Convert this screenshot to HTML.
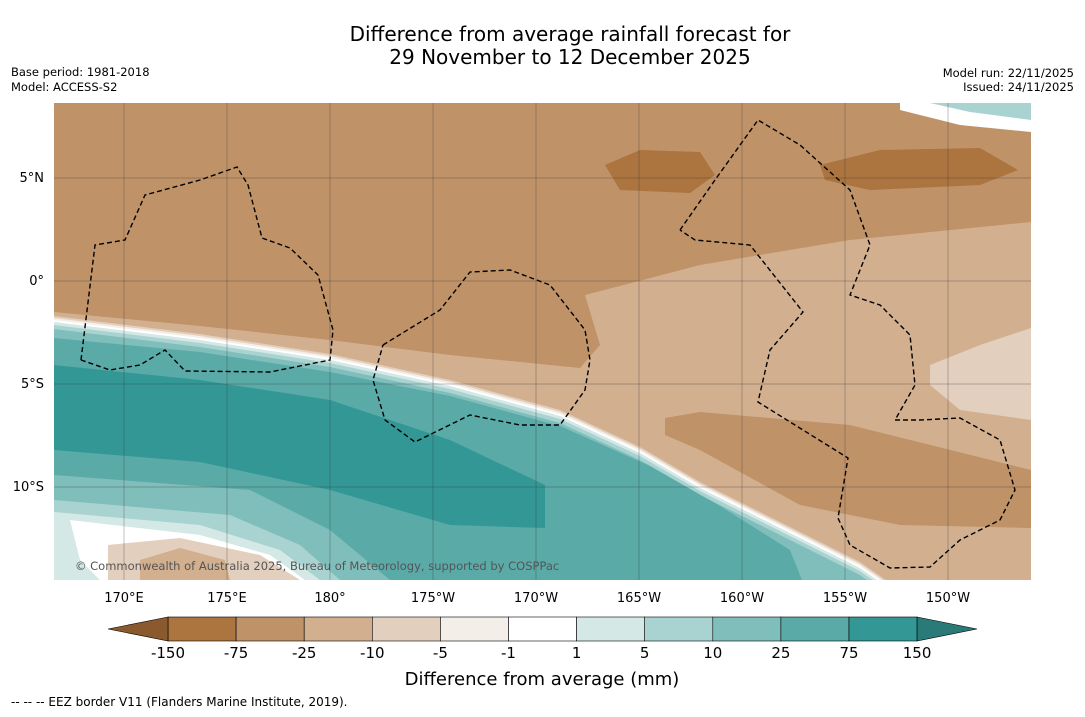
<!DOCTYPE html>
<html><head><meta charset="utf-8"><style>
body{margin:0;width:1085px;height:713px;background:#fff;font-family:"DejaVu Sans",sans-serif;overflow:hidden}
</style></head><body>
<svg id="s" width="1085" height="713" xmlns="http://www.w3.org/2000/svg" font-family="DejaVu Sans, sans-serif">
<text x="570" y="41" font-size="20" text-anchor="middle">Difference from average rainfall forecast for</text>
<text x="570" y="64" font-size="20" text-anchor="middle">29 November to 12 December 2025</text>
<text x="11" y="76" font-size="11.5">Base period: 1981-2018</text>
<text x="11" y="91" font-size="11.5">Model: ACCESS-S2</text>
<text x="1074" y="77" font-size="11.5" text-anchor="end">Model run: 22/11/2025</text>
<text x="1074" y="91" font-size="11.5" text-anchor="end">Issued: 24/11/2025</text>
<defs><clipPath id="mc"><rect x="54" y="103" width="977" height="477"/></clipPath></defs>
<g id="map" clip-path="url(#mc)"></g>
<g id="axes"></g>
<g id="cbar"></g>
<text x="542" y="685" font-size="18" text-anchor="middle">Difference from average (mm)</text>
<text x="11" y="706" font-size="12">-- -- -- EEZ border V11 (Flanders Marine Institute, 2019).</text>
</svg>
<script>
// Colorbar data
const levels=["-150","-75","-25","-10","-5","-1","1","5","10","25","75","150"];
const colors=["#AC743E","#BF9268","#D1AF8F","#E3CFBE","#F3EEE8","#FFFFFF","#D4E8E6","#A9D3D1","#80BEBB","#5AAAA8","#339895"];
const lonTicks=[170,175,180,185,190,195,200,205,210];
const lonLabels=["170°E","175°E","180°","175°W","170°W","165°W","160°W","155°W","150°W"];
const latTicks=[5,0,-5,-10];
const latLabels=["5°N","0°","5°S","10°S"];
const NS="http://www.w3.org/2000/svg";
const xLon=l=>124+(l-170)*20.6, yLat=l=>281-l*20.6;
function mk(p,t,a){const e=document.createElementNS(NS,t);for(const k in a)e.setAttribute(k,a[k]);p.appendChild(e);return e;}
const map=document.getElementById('map'),axes=document.getElementById('axes'),cb=document.getElementById('cbar');
function poly(pts,fill,name){const e=mk(map,'path',{d:'M'+pts.map(p=>p.join(',')).join('L')+'Z',fill:fill});

}
poly([[54,103],[1031,103],[1031,580],[54,580]],colors[1],'region-minus75');
poly([[54,312],[200,326],[330,340],[450,355],[580,368],[600,345],[585,295],[700,265],[850,240],[1031,222],[1031,580],[54,580]],colors[2],'region-minus25');
poly([[665,418],[700,412],[850,425],[1031,470],[1031,528],[900,525],[800,505],[700,450],[665,435]],colors[1],'region-minus75-south');
poly([[930,365],[980,345],[1031,328],[1031,420],[960,410],[930,385]],colors[3],'region-minus10-east');
poly([[605,165],[640,150],[700,152],[715,175],[690,193],[620,190]],colors[0],'region-minus150-a');
poly([[820,165],[880,150],[980,148],[1018,170],[980,185],[870,190],[825,180]],colors[0],'region-minus150-b');
const curve=[[54,316],[200,334],[330,354],[450,380],[560,410],[640,447],[700,482],[780,522],[860,562],[900,590],[1031,590]];
const offs=[0,2,4,6,9,13];
offs.forEach((o,i)=>{const pts=curve.map(p=>[p[0],p[1]+o]);pts.push([54,600]);poly(pts,colors[i+3],'band-'+levels[i+3]);});
poly([[54,338],[200,352],[330,372],[450,396],[560,426],[650,466],[720,506],[790,550],[810,600],[54,600]],colors[9],'region-25-75');
poly([[54,365],[200,380],[330,400],[450,440],[545,485],[545,528],[450,525],[330,490],[200,462],[54,450]],colors[10],'region-75-150');
poly([[54,475],[250,490],[330,530],[390,580],[54,580]],colors[8],'region-10-25-sw');
poly([[54,500],[230,515],[300,545],[340,580],[54,580]],colors[7],'region-5-10-sw');
poly([[54,512],[200,525],[280,550],[320,580],[54,580]],colors[6],'region-1-5-sw');
poly([[70,520],[200,535],[270,555],[305,580],[100,580],[80,560]],colors[5],'region-white-sw');
poly([[108,545],[180,538],[260,555],[300,580],[108,580]],colors[3],'region-minus10-sw');
poly([[140,560],[180,548],[225,560],[230,580],[140,580]],colors[2],'region-minus25-sw');
poly([[900,103],[1031,103],[1031,132],[960,125],[900,110]],colors[5],'band-white-ne');
poly([[930,103],[1031,103],[1031,120],[970,112]],colors[7],'band-teal-ne');
// grid
lonTicks.forEach((l,i)=>{const g=mk(axes,'line',{x1:xLon(l),x2:xLon(l),y1:103,y2:580,stroke:'#333','stroke-width':0.5,'stroke-opacity':0.6});


const t=mk(axes,'text',{x:xLon(l),y:602,'font-size':13,'text-anchor':'middle'});t.textContent=lonLabels[i];

});
latTicks.forEach((l,i)=>{const g=mk(axes,'line',{x1:54,x2:1031,y1:yLat(l),y2:yLat(l),stroke:'#333','stroke-width':0.5,'stroke-opacity':0.6});


const t=mk(axes,'text',{x:44,y:yLat(l)+4,'font-size':13,'text-anchor':'end'});t.textContent=latLabels[i];

});
// EEZ borders
const eez=[
[[81,360],[95,245],[125,240],[145,195],[200,180],[237,167],[248,185],[262,238],[290,248],[318,275],[333,330],[330,360],[270,372],[185,371],[165,350],[140,365],[110,370],[81,360]],
[[383,345],[440,310],[470,272],[510,270],[550,285],[585,330],[590,360],[585,390],[560,425],[520,425],[470,415],[415,442],[385,420],[373,380],[383,345]],
[[680,230],[715,180],[758,120],[800,145],[850,190],[870,245],[850,295],[880,305],[910,335],[915,385],[895,420],[920,420],[960,418],[1000,440],[1015,490],[1000,520],[960,540],[930,567],[890,568],[850,545],[838,518],[848,458],[758,402],[770,350],[803,312],[750,245],[695,240],[680,230]]];
eez.forEach(pts=>{const e=mk(map,'path',{d:'M'+pts.map(p=>p.join(',')).join('L'),fill:'none',stroke:'#000','stroke-width':1.4,'stroke-dasharray':'5,3'});

});
const wm=mk(map,'text',{x:75,y:570,'font-size':11.5,fill:'#555'});wm.textContent="© Commonwealth of Australia 2025, Bureau of Meteorology, supported by COSPPac";


// colorbar
const cx=i=>168+i*68.1;
colors.forEach((c,i)=>{const r=mk(cb,'rect',{x:cx(i),y:617,width:68.1,height:24,fill:c,stroke:'#000','stroke-width':0.6});

});
const lt=mk(cb,'path',{d:'M168,617L108,629L168,641Z',fill:'#8a5a2e',stroke:'#000','stroke-width':0.6});


const rt=mk(cb,'path',{d:`M${cx(11)},617L977,629L${cx(11)},641Z`,fill:'#2a7a78',stroke:'#000','stroke-width':0.6});


levels.forEach((l,i)=>{const t=mk(cb,'text',{x:cx(i),y:658,'font-size':15,'text-anchor':'middle'});t.textContent=l;

});
</script>
</body></html>
